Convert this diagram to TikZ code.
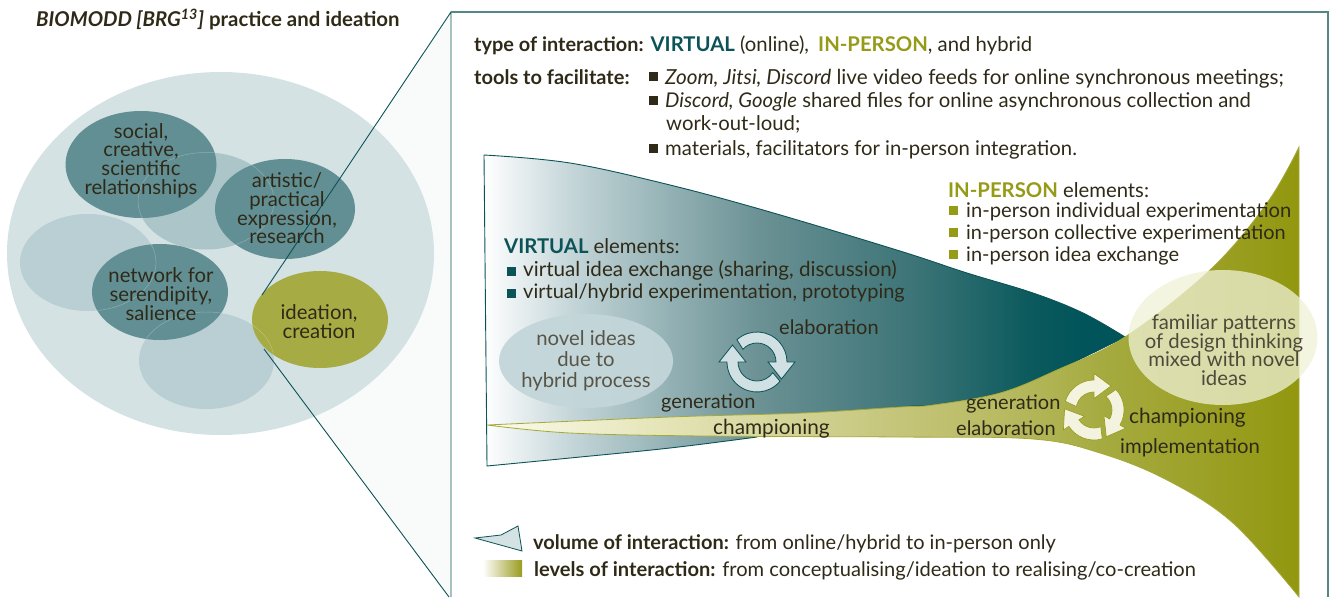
\documentclass[tikz,border=0pt]{standalone}
\usepackage{fontspec}
\setmainfont{Lato}
\usetikzlibrary{shapes.geometric}
\definecolor{ink}{HTML}{2F2A18}
\definecolor{tealD}{HTML}{0C5357}
\definecolor{oliveD}{HTML}{959A17}
\definecolor{bigE}{HTML}{D4E2E4}
\definecolor{hideE}{HTML}{B9CFD3}
\definecolor{hideT}{HTML}{ABC5C8}
\definecolor{darkE}{HTML}{628F93}
\definecolor{ideaE}{HTML}{A6AB43}
\definecolor{panelF}{HTML}{F9FBFB}
\definecolor{cycT}{HTML}{D0E0E3}
\definecolor{cycO}{HTML}{F3F3E0}
\definecolor{novel}{HTML}{C3D6DA}
\definecolor{famil}{HTML}{F0F2D6}
\definecolor{ta}{HTML}{C5D6D9}
\definecolor{tb}{HTML}{93B1B4}
\definecolor{tc}{HTML}{6B9194}
\definecolor{td}{HTML}{3A7376}
\definecolor{te}{HTML}{0B5A5D}
\definecolor{tf}{HTML}{00545A}
\definecolor{oa}{HTML}{FCFBEC}
\definecolor{ob}{HTML}{E6E6BC}
\definecolor{oc}{HTML}{C4C579}
\definecolor{od}{HTML}{B8BB62}
\definecolor{oe}{HTML}{A6AB41}
\definecolor{of}{HTML}{92970F}
\definecolor{lg}{HTML}{999C1E}
\pgfdeclarehorizontalshading{tealg}{100bp}{color(0bp)=(white);color(25bp)=(white);color(31.7bp)=(ta);color(39.5bp)=(tb);color(46.5bp)=(tc);color(59bp)=(td);color(67.6bp)=(te);color(72bp)=(tf);color(100bp)=(tf)}
\pgfdeclarehorizontalshading{oliveg}{100bp}{color(0bp)=(oa);color(25bp)=(oa);color(35bp)=(ob);color(50.4bp)=(oc);color(56.6bp)=(od);color(62.7bp)=(oe);color(75bp)=(of);color(100bp)=(of)}
\pgfdeclarehorizontalshading{legendg}{100bp}{color(0bp)=(white);color(25bp)=(white);color(75bp)=(lg);color(100bp)=(lg)}
\newcommand{\fs}[1]{\fontsize{#1}{#1}\selectfont}
\tikzset{
  x=1pt,y=-1pt,
  lbl/.style={anchor=base west,inner sep=0pt,text=ink,font=\fs{20.3}},
  ctr/.style={inner sep=0pt,text=ink,align=center,font=\fontsize{20.3}{18.7}\selectfont},
  blob/.style={ellipse,inner sep=0pt},
  teal line/.style={draw=tealD,line width=0.9pt},
  seam/.style={draw=white,opacity=.28,line width=.5pt},
  sq/.style={inner sep=0pt,minimum size=9pt,fill=#1},
  cyct/.style={fill=cycT,draw=tealD,line width=.8pt},
  cyco/.style={fill=cycO,draw=oliveD,line width=.6pt},
}
\newcommand{\tbf}[1]{\textcolor{tealD}{\textbf{#1}}}
\newcommand{\obf}[1]{\textcolor{oliveD}{\textbf{#1}}}
\newcommand{\cycarrow}[7]{% centre, rotate, start, rin, rout, wing, style
  \begin{scope}[shift={#1},y=1pt,rotate=#2]
    \path[#7] (#3:#5) arc[start angle=#3,end angle=90,radius=#5] -- (0,#5+#6) -- (17,{(#4+#5)/2}) -- (0,#4-#6) -- (0,#4) arc[start angle=90,end angle=#3+6,radius=#4] -- cycle;
  \end{scope}}
\begin{document}
\begin{tikzpicture}
\useasboundingbox (0,0) rectangle (1333,597);
\coordinate (wedgeTop) at (262,295);
\coordinate (wedgeBot) at (264,349);
\coordinate (panelTL) at (451,12);
\coordinate (panelTR) at (1328,12);
\coordinate (panelBL) at (451,597);
\coordinate (panelBR) at (1328,597);
\coordinate (wedgeEnd) at (449,597);
% wedge
\fill[panelF] (wedgeTop) -- (panelTL) -- (panelBL) -- (wedgeEnd) -- (wedgeBot) -- cycle;
% left ellipses
\node[blob,fill=bigE,minimum width=427pt,minimum height=363pt] (big) at (220.5,253.5) {};
\node[blob,fill=hideT,minimum width=136pt,minimum height=97pt] (hidTop) at (206,201) {};
\node[blob,fill=hideE,minimum width=136pt,minimum height=97pt] (hidLeft) at (88,262.5) {};
\node[blob,fill=hideE,minimum width=135pt,minimum height=97pt] (hidBot) at (206.5,360.5) {};
\node[blob,fill=darkE,minimum width=151pt,minimum height=107pt] (social) at (141,164.5) {};
\node[blob,fill=darkE,minimum width=140pt,minimum height=100pt] (artistic) at (285,209) {};
\node[blob,fill=darkE,minimum width=136pt,minimum height=96pt] (network) at (160,292) {};
\node[blob,fill=ideaE,minimum width=136pt,minimum height=97pt] (ideation) at (320,319.5) {};
% seams
\begin{scope}
  \clip (141,164.5) ellipse [x radius=75.5,y radius=53.5];
  \path[seam] (206,201) ellipse [x radius=68,y radius=48.5];
\end{scope}
\begin{scope}
  \clip (285,209) ellipse [x radius=70,y radius=50];
  \path[seam] (206,201) ellipse [x radius=68,y radius=48.5];
\end{scope}
\begin{scope}
  \clip (160,292) ellipse [x radius=68,y radius=48];
  \path[seam] (88,262.5) ellipse [x radius=68,y radius=48.5];
  \path[seam] (206.5,360.5) ellipse [x radius=67.5,y radius=48.5];
\end{scope}
\begin{scope}
  \clip (320,319.5) ellipse [x radius=68,y radius=48.5];
  \path[seam] (206.5,360.5) ellipse [x radius=67.5,y radius=48.5];
\end{scope}
% panel lines
\draw[teal line] (wedgeTop) -- (panelTL) -- (panelBL);
\draw[teal line] (wedgeBot) -- (wedgeEnd);
\draw[draw=tealD!70,line width=1.1pt] (panelTL) -- (panelTR) -- (panelBR);
% teal funnel
\path[shade,shading=tealg,draw=tealD,line width=.9pt]
  (487,466) -- (484,155)
  -- plot[smooth,tension=.6] coordinates {(484,155) (570,163) (670,185) (770,212) (900,251) (967,273) (1033,293) (1083,313) (1125,337)}
  -- plot[smooth,tension=.6] coordinates {(1125,337) (1057,370) (1000,393) (933,405) (900,407) (757,420)}
  -- (757,437)
  -- plot[smooth,tension=.6] coordinates {(757,437) (670,448) (570,458) (487,466)} -- cycle;
% olive funnel
\path[shade,shading=oliveg,draw=oliveD!85,line width=.8pt]
  (487,425) -- plot[smooth,tension=.6] coordinates {(487,425) (670,417) (803,413) (900,407) (933,405) (1000,393) (1057,370) (1125,337) (1210,270) (1267,203) (1299,147)}
  -- (1299,597)
  -- plot[smooth,tension=.6] coordinates {(1299,597) (1233,523) (1167,480) (1100,453) (1033,439) (900,437) (703,436) (570,433) (487,425)} -- cycle;
% overlay ellipses
\node[blob,fill=novel,fill opacity=.95,minimum width=174pt,minimum height=94pt] (novelE) at (586,361) {};
\node[blob,fill=famil,fill opacity=.75,minimum width=189pt,minimum height=135pt] (familE) at (1223,337.5) {};
% cycle arrows
\cycarrow{(757,362)}{-90}{222}{19}{30}{8}{cyct}
\cycarrow{(757,362)}{90}{230}{19}{30}{8}{cyct}
\cycarrow{(1094,410)}{0}{163}{18}{30}{6.5}{cyco}
\cycarrow{(1094,410)}{-120}{163}{18}{30}{6.5}{cyco}
\cycarrow{(1094,410)}{-237}{163}{18}{30}{6.5}{cyco}
% texts: left
\node[lbl,font=\fs{20.4}\bfseries] (title) at (36,27) {\textit{BIOMODD [BRG\textsuperscript{13}]} practice and ideation};
\node[ctr] (tSocial) at (141,160.5) {social,\\creative,\\scientific\\relationships};
\node[ctr] (tArt) at (287,208.5) {artistic/\\practical\\expression,\\research};
\node[ctr] (tNet) at (161,294) {network for\\serendipity,\\salience};
\node[ctr] (tIdea) at (319,321.5) {ideation,\\creation};
% top text
\node[lbl] (tType) at (474,51) {{\fs{19.9}\textbf{type of interaction:}} \tbf{VIRTUAL} (online),\hspace{4pt} \obf{IN-PERSON}, and hybrid};
\node[lbl,font=\fs{20}] (tTools) at (474,84) {\textbf{tools to facilitate:}};
\node[sq=ink] (b1) at (653.5,76.5) {};
\node[lbl,font=\fs{20.7}] (t1) at (665,84) {\textit{Zoom, Jitsi, Discord} live video feeds for online synchronous meetings;};
\node[sq=ink] (b2) at (653.5,100.5) {};
\node[lbl] (t2) at (665,107.5) {\textit{Discord, Google} shared files for online asynchronous collection and};
\node[lbl] (t2b) at (666,130) {work-out-loud;};
\node[sq=ink] (b3) at (653.5,148.5) {};
\node[lbl] (t3) at (665,155) {materials, facilitators for in-person integration.};
% virtual
\node[lbl] (tV) at (504,253) {\tbf{VIRTUAL} elements:};
\node[sq=tealD] (v1) at (511.5,271.5) {};
\node[lbl,font=\fs{20.6}] (tV1) at (523,276) {virtual idea exchange (sharing, discussion)};
\node[sq=tealD] (v2) at (511.5,293.5) {};
\node[lbl,font=\fs{20}] (tV2) at (523,298) {virtual/hybrid experimentation, prototyping};
\node[ctr,text=ink!80,font=\fontsize{20.3}{21}\selectfont] (tNovel) at (586,361) {novel ideas\\due to\\hybrid process};
\node[lbl,font=\fs{20}] (tElab) at (779,334) {elaboration};
\node[lbl,font=\fs{20}] (tGen) at (661,408) {generation};
\node[lbl,font=\fs{20.8}] (tChamp) at (713,434) {championing};
% in person
\node[lbl] (tI) at (948,197) {\obf{IN-PERSON} elements:};
\node[sq=oliveD] (p1) at (953.5,210.5) {};
\node[lbl,font=\fs{20.2}] (tI1) at (966,217) {in-person individual experimentation};
\node[sq=oliveD] (p2) at (953.5,232.5) {};
\node[lbl,font=\fs{19.9}] (tI2) at (966,239) {in-person collective experimentation};
\node[sq=oliveD] (p3) at (953.5,254.5) {};
\node[lbl,font=\fs{20}] (tI3) at (966,261) {in-person idea exchange};
\node[ctr,text=ink!85] (tFam) at (1224,350) {familiar patterns\\of design thinking\\mixed with novel\\ideas};
\node[lbl,font=\fs{20}] (tGen2) at (966,409) {generation};
\node[lbl,font=\fs{20}] (tElab2) at (956,435) {elaboration};
\node[lbl,font=\fs{20.8}] (tChamp2) at (1129,423) {championing};
\node[lbl] (tImpl) at (1120,453) {implementation};
% legend
\path[draw=tealD,line width=.8pt,fill=bigE] (475,538) -- (501,535) -- (518,526) -- (522,551) -- cycle;
\node[lbl,font=\fs{20}] (tVol) at (533,549) {\textbf{volume of interaction:} from online/hybrid to in-person only};
\path[shade,shading=legendg] (483,560) rectangle (522,576);
\node[lbl,font=\fs{20.1}] (tLev) at (534,576) {\textbf{levels of interaction:} from conceptualising/ideation to realising/co-creation};
\end{tikzpicture}
\end{document}
